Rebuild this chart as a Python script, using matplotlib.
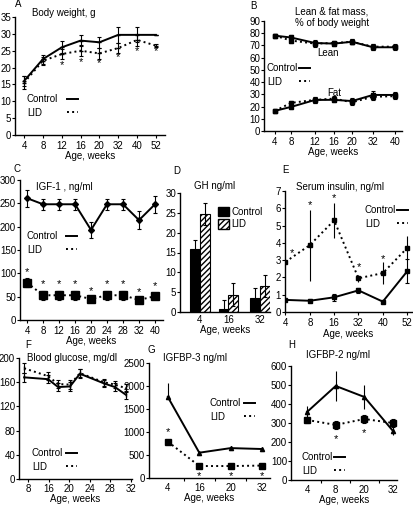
import numpy as np
import matplotlib
matplotlib.use("Agg")
import matplotlib.pyplot as plt
from matplotlib.patches import Patch
from matplotlib.lines import Line2D

plt.rcParams['font.family'] = ['Liberation Sans', 'DejaVu Sans']
plt.rcParams['font.size'] = 7
plt.rcParams['hatch.linewidth'] = 1.0

W, H = 413, 505

# A: body weight
wk_A = ['4', '8', '12', '16', '20', '32', '40', '52']
bw_ctrl = [16, 22.5, 26, 28, 27.5, 29.7, 29.7, 29.7]
bw_ctrl_err = [1.6, 1.3, 1.8, 1.7, 1.6, 2.3, 2.2, 0]
bw_lid = [15.5, 22, 24, 25, 24.2, 25.8, 28.2, 26.5]
bw_lid_err = [2, 1.2, 1.5, 1.7, 1.6, 1.5, 1.7, 0.5]
bw_star_i = [2, 3, 4, 5, 6, 7]
bw_star_y = [20.8, 21.7, 21.3, 23, 25, 24.8]

# B: lean & fat mass
wk_B = ['4', '8', '12', '16', '20', '32', '40']
pos_B = [0, 0.8, 2.0, 2.95, 3.85, 4.9, 6.0]
lean_ctrl = [78, 76.5, 72, 71.5, 73, 68.5, 68.5]
lean_lid = [78, 74, 71.5, 72, 73, 69, 69]
lean_err = [1, 2, 2.5, 2, 2, 2.5, 2]
fat_ctrl = [16.5, 19.7, 25.4, 25.5, 24.5, 29.5, 29.5]
fat_lid = [16.5, 23, 25.5, 26.5, 23.5, 28, 28.5]
fat_err = [1, 1.5, 2.5, 2, 2.5, 3, 2.5]

# C: IGF-1
wk_C = ['4', '8', '12', '16', '20', '24', '28', '32', '40']
igf_ctrl = [261, 248, 248, 248, 193, 248, 248, 214, 248]
igf_ctrl_err = [18, 12, 12, 12, 18, 12, 12, 20, 18]
igf_lid = [80, 53, 53, 53, 45, 53, 53, 43, 51]
igf_lid_err = [10, 10, 10, 10, 3, 10, 10, 3, 3]
igf_star = [103, 78, 78, 78, 62, 78, 78, 60, 73]

# D: GH
wk_D = ['4', '16', '32']
gh_ctrl = [15.9, 0.7, 3.6]
gh_ctrl_err = [2.2, 2.3, 2.5]
gh_lid = [24.7, 4.4, 6.6]
gh_lid_err = [2.7, 2.8, 2.7]

# E: serum insulin
wk_E = ['4', '8', '16', '32', '40', '52']
ins_ctrl = [0.7, 0.65, 0.85, 1.25, 0.6, 2.35]
ins_ctrl_err = [0.05, 0.1, 0.2, 0.15, 0.05, 0.7]
ins_lid = [2.9, 3.87, 5.3, 1.95, 2.25, 3.7]
ins_lid_err = [0.1, 2.05, 1.0, 0.2, 0.65, 0.7]
ins_star_x = [0.25, 1, 2, 3, 4]
ins_star_y = [3.4, 6.2, 6.6, 2.6, 3.05]

# F: blood glucose
wk_F = ['8', '16', '20', '24', '28', '32']
pos_F = [-0.19, 0.97, 1.46, 2.04, 2.52, 3.69, 4.22, 4.76]
gl_ctrl = [168, 165, 152, 153, 174, 158, 152, 139]
gl_lid = [183, 170, 157, 156, 175, 160, 156, 150]
gl_err = [8, 7, 6, 7, 7, 6, 6, 7]

# G: IGFBP-3
wk_G = ['4', '16', '20', '32']
bp3_ctrl = [1760, 550, 650, 630]
bp3_ctrl_up = [300, 0, 40, 30]
bp3_lid = [790, 260, 260, 270]
bp3_lid_err = [40, 20, 20, 20]
bp3_star_x = [0, 1, 2, 3]
bp3_star_y = [1000, 40, 40, 40]

# H: IGFBP-2
wk_H = ['4', '8', '20', '32']
bp2_ctrl = [358, 495, 437, 258]
bp2_ctrl_err = [30, 80, 62, 20]
bp2_lid = [316, 290, 321, 300]
bp2_lid_err = [15, 20, 20, 20]
bp2_star_x = [1, 2]
bp2_star_y = [215, 247]

fig = plt.figure(figsize=(W / 100, H / 100), dpi=100)


def px_axes(l, t, r, b):
    ax = fig.add_axes([l / W, 1 - b / H, (r - l) / W, (b - t) / H])
    for s in ['top', 'right']:
        ax.spines[s].set_visible(False)
    for s in ['left', 'bottom']:
        ax.spines[s].set_linewidth(1.0)
    ax.tick_params(length=2, width=0.8, pad=2, labelsize=7)
    ax.tick_params(axis='y', pad=0.8)
    return ax


def ftext(x, y, s, **kw):
    fig.text(x / W, 1 - y / H, s, va='center', fontsize=7, **kw)


def leg(ax, x, y, pad):
    # labels in the first column (left aligned), line keys in the second
    blank = Line2D([], [], color='none')
    h = [blank, blank,
         Line2D([], [], color='black', lw=1.4),
         Line2D([], [], color='black', lw=1.4, ls=':')]
    hl = 11.2
    ax.legend(h, ['Control', 'LID', '', ''], ncol=2, loc='upper left',
              bbox_to_anchor=((x - hl) / W, 1 - y / H),
              bbox_transform=fig.transFigure, frameon=False,
              handlelength=1.15, handletextpad=0, columnspacing=pad,
              labelspacing=0.4, fontsize=7, borderaxespad=0, borderpad=0)


def stars(ax, xs, ys):
    for x, y in zip(xs, ys):
        ax.text(x, y, '*', ha='center', va='center', fontsize=8)


ebkw = dict(capsize=1.5, elinewidth=0.8, capthick=0.8, ecolor='black')

# ---- A
ax = px_axes(15, 17, 165, 135)
xa = np.arange(len(wk_A))
ax.errorbar(xa, bw_ctrl, yerr=bw_ctrl_err, color='black', lw=1.4, marker='_', ms=3, **ebkw)
ax.errorbar(xa, bw_lid, yerr=bw_lid_err, color='black', lw=1.4, ls=':', marker='_', ms=3, **ebkw)
stars(ax, bw_star_i, bw_star_y)
ax.set_xlim(-0.48, 7.48)
ax.set_ylim(0, 35)
ax.set_yticks(range(0, 36, 5))
ax.set_xticks(xa)
ax.set_xticklabels(wk_A)
ax.set_xlabel('Age, weeks', fontsize=7, labelpad=0.5)
leg(ax, 27, 94, 0.9)
ftext(15, 4, 'A')
ftext(32, 13, 'Body weight, g')

# ---- B
ax = px_axes(264, 21, 402, 131)
for yv, yl, e in [(lean_ctrl, lean_lid, lean_err), (fat_ctrl, fat_lid, fat_err)]:
    ax.errorbar(pos_B, yv, yerr=e, color='black', lw=1.4, marker='s', ms=2.5, **ebkw)
    ax.errorbar(pos_B, yl, yerr=e, color='black', lw=1.4, ls=':', marker='s', ms=2.5, **ebkw)
ax.set_xlim(-0.55, 6.35)
ax.set_ylim(0, 90)
ax.set_yticks(range(0, 91, 10))
ax.set_xticks(pos_B)
ax.set_xticklabels(wk_B)
ax.set_xlabel('Age, weeks', fontsize=7, labelpad=0.5)
ax.text(2.1, 64, 'Lean', fontsize=7, va='center')
ax.text(2.6, 31, 'Fat', fontsize=7, va='center')
leg(ax, 267, 63, 0.1)
ftext(250, 6, 'B')
ftext(295, 12, 'Lean & fat mass,')
ftext(295, 23, '% of body weight')

# ---- C
ax = px_axes(20, 180, 163, 320)
xc = np.arange(len(wk_C))
ax.errorbar(xc, igf_ctrl, yerr=igf_ctrl_err, color='black', lw=1.4, marker='D', ms=3, **ebkw)
ax.errorbar(xc, igf_lid, yerr=igf_lid_err, color='black', lw=1.4, ls=':', marker='s', ms=5.5, **ebkw)
stars(ax, xc, igf_star)
ax.set_xlim(-0.44, 8.5)
ax.set_ylim(0, 300)
ax.set_yticks(range(0, 301, 50))
ax.set_xticks(xc)
ax.set_xticklabels(wk_C)
ax.set_xlabel('Age, weeks', fontsize=7, labelpad=0.5)
leg(ax, 27, 231, 0.8)
ftext(13, 169, 'C')
ftext(36, 187, 'IGF-1 , ng/ml')

# ---- D
ax = px_axes(180, 193, 270, 312)
xd = np.array([0, 1, 2.1])
bw = 0.34
ax.bar(xd - bw / 2, gh_ctrl, bw, yerr=gh_ctrl_err, color='black', edgecolor='black', lw=0.8,
       error_kw=dict(elinewidth=0.8, capsize=1.5, capthick=0.8))
ax.bar(xd + bw / 2, gh_lid, bw, yerr=gh_lid_err, color='white', edgecolor='black', hatch='//////', lw=0.8,
       error_kw=dict(elinewidth=0.8, capsize=1.5, capthick=0.8))
ax.set_xlim(-0.69, 2.45)
ax.set_ylim(0, 30)
ax.set_yticks(range(0, 31, 5))
ax.set_xticks(xd)
ax.set_xticklabels(wk_D)
ax.tick_params(axis='x', length=0)
ax.set_xlabel('Age, weeks', fontsize=7, labelpad=0.5)
ph = [Patch(facecolor='black', edgecolor='black'), Patch(facecolor='white', edgecolor='black', hatch='//////')]
ax.legend(ph, ['Control', 'LID'], loc='upper left', bbox_to_anchor=(218 / W, 1 - 207 / H),
          bbox_transform=fig.transFigure, frameon=False, handlelength=1.1, handleheight=1.1,
          handletextpad=0.3, labelspacing=0.25, fontsize=7, borderaxespad=0, borderpad=0)
ftext(173, 171, 'D')
ftext(194, 186, 'GH ng/ml')

# ---- E
ax = px_axes(285, 191, 412, 312)
xe = np.arange(len(wk_E))
ax.errorbar(xe, ins_ctrl, yerr=ins_ctrl_err, color='black', lw=1.4, marker='s', ms=2.5, **ebkw)
ax.errorbar(xe, ins_lid, yerr=ins_lid_err, color='black', lw=1.4, ls=':', marker='s', ms=2.5,
            capsize=0, elinewidth=0.8, ecolor='black')
stars(ax, ins_star_x, ins_star_y)
ax.set_xlim(-0.02, 5.2)
ax.set_ylim(0, 7)
ax.set_yticks(range(0, 8))
ax.set_xticks(xe)
ax.set_xticklabels(wk_E)
ax.set_xlabel('Age, weeks', fontsize=7, labelpad=1)
leg(ax, 365, 205, 0.1)
ftext(282, 170, 'E')
ftext(296, 187, 'Serum insulin, ng/ml')

# ---- F
ax = px_axes(19, 358, 132, 479)
ax.errorbar(pos_F, gl_ctrl, yerr=gl_err, color='black', lw=1.4, marker='|', ms=3, **ebkw)
ax.errorbar(pos_F, gl_lid, yerr=gl_err, color='black', lw=1.4, ls=':', marker='|', ms=3, **ebkw)
ax.set_xlim(-0.44, 5.05)
ax.set_ylim(0, 200)
ax.set_yticks(range(0, 201, 40))
ax.set_xticks(range(len(wk_F)))
ax.set_xticklabels(wk_F)
ax.tick_params(axis='x', pad=1.5)
ax.set_xlabel('Age, weeks', fontsize=7, labelpad=0)
leg(ax, 32, 448, 0.3)
ftext(25, 345, 'F')
ftext(27, 358, 'Blood glucose, mg/dl')

# ---- G
ax = px_axes(149, 363, 270, 478)
xg = np.arange(len(wk_G))
ax.errorbar(xg, bp3_ctrl, yerr=[np.zeros(4), bp3_ctrl_up], color='black', lw=1.4, marker='^', ms=3,
            capsize=0, elinewidth=0.8, ecolor='black')
ax.errorbar(xg, bp3_lid, yerr=bp3_lid_err, color='black', lw=1.4, ls=':', marker='s', ms=4, **ebkw)
stars(ax, bp3_star_x, bp3_star_y)
ax.set_xlim(-0.6, 3.25)
ax.set_ylim(0, 2500)
ax.set_yticks(range(0, 2501, 500))
ax.set_xticks(xg)
ax.set_xticklabels(wk_G)
ax.set_xticks([0.5, 1.5, 2.5], minor=True)
ax.tick_params(axis='x', which='major', length=0, pad=3.5)
ax.tick_params(axis='x', which='minor', length=2.5, width=0.8)
ax.set_xlabel('Age, weeks', fontsize=7, labelpad=0)
leg(ax, 210, 398, 0.3)
ftext(148, 350, 'G')
ftext(163, 358, 'IGFBP-3 ng/ml')

# ---- H
ax = px_axes(291, 366, 397, 480)
xh = np.arange(len(wk_H))
ax.errorbar(xh, bp2_ctrl, yerr=bp2_ctrl_err, color='black', lw=1.4, marker='^', ms=3,
            capsize=0, elinewidth=0.8, ecolor='black')
ax.errorbar(xh, bp2_lid, yerr=bp2_lid_err, color='black', lw=1.4, ls=':', marker='s', ms=4, **ebkw)
stars(ax, bp2_star_x, bp2_star_y)
ax.set_xlim(-0.56, 3.14)
ax.set_ylim(0, 600)
ax.set_yticks(range(0, 601, 100))
ax.set_xticks(xh)
ax.set_xticklabels(wk_H)
ax.set_xticks([0.5, 1.5, 2.5], minor=True)
ax.tick_params(axis='x', which='major', length=0, pad=3.5)
ax.tick_params(axis='x', which='minor', length=2.5, width=0.8)
ax.set_xlabel('Age, weeks', fontsize=7, labelpad=0)
leg(ax, 302, 452, 0.1)
ftext(288, 345, 'H')
ftext(306, 355, 'IGFBP-2 ng/ml')

fig.savefig('out.png', dpi=100)
